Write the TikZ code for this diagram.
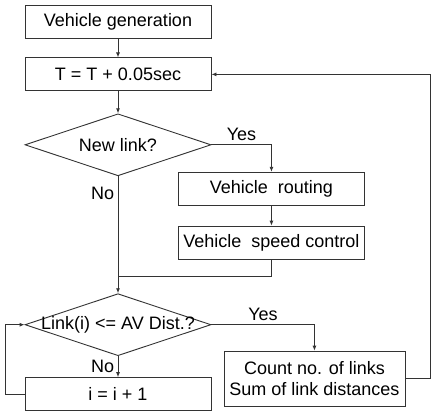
\documentclass[tikz,border=0pt]{standalone}
\usepackage{fontspec}
\setmainfont{Liberation Sans}
\usetikzlibrary{arrows.meta, positioning, calc, shapes.geometric}

\begin{document}
\begin{tikzpicture}[
  block/.style = {draw=black!80, line width=0.9pt, minimum height=33pt, minimum width=186pt, inner sep=2pt, align=center},
  decision/.style = {diamond, draw=black!80, line width=0.9pt, minimum width=186pt, minimum height=62pt, inner sep=0pt},
  arrow/.style = {line width=0.9pt, draw=black!80, -{Latex[length=5pt, width=4pt]}},
  line/.style = {line width=0.9pt, draw=black!80},
  font=\fontsize{18}{21}\selectfont
]

\useasboundingbox (0,0) rectangle (435pt,-414pt);

% Vehicle generation
\node[block] (gen) at (118pt,-21.5pt) {Vehicle generation};

% Time step
\node[block, below=19pt of gen] (tstep) {T = T + 0.05sec};

% New link decision
\node[decision, below=22pt of tstep, label=center:{New link?}] (newlink) {};

% Routing and speed control
\node[block, anchor=north] (route) at ($(newlink.east)+(60pt,-27pt)$) {Vehicle\ \ routing};
\node[block, below=20pt of route] (speed) {Vehicle\ \ speed control};

% Distance check
\node[decision, below=117pt of newlink, label=center:{Link(i) <= AV Dist.?}] (check) {};
\node[block, below=21pt of check] (incr) {i = i + 1};

% Counting block
\node[block, anchor=north, minimum width=181pt, minimum height=55pt] (count)
  at ($(check.east)+(103pt,-26pt)$) {Count no. of links\\Sum of link distances};

% Connectors
\draw[arrow] (gen) -- (tstep);
\draw[arrow] (tstep) -- (newlink);
\draw[arrow] (newlink.east) -| node[pos=0.25, above] {Yes} (route.north);
\draw[arrow] (route) -- (speed);

\coordinate (merge) at ($(speed.south)+(0,-17pt)$);
\draw[line] (speed.south) -- (merge) -- (newlink.south |- merge);
\draw[arrow] (newlink.south) -- node[pos=0.15, left] {No} (check.north);

\draw[arrow] (check.east) -| node[pos=0.25, above] {Yes} (count.north);
\draw[arrow] (check) -- node[left] {No} (incr);
\draw[arrow] (incr.west) -- ++(-19pt,0) |- (check.west);

% Feedback to time step
\coordinate (back) at ($(count.east)+(25pt,0)$);
\draw[arrow] (count.east) -- (back) |- (tstep.east);

\end{tikzpicture}
\end{document}
